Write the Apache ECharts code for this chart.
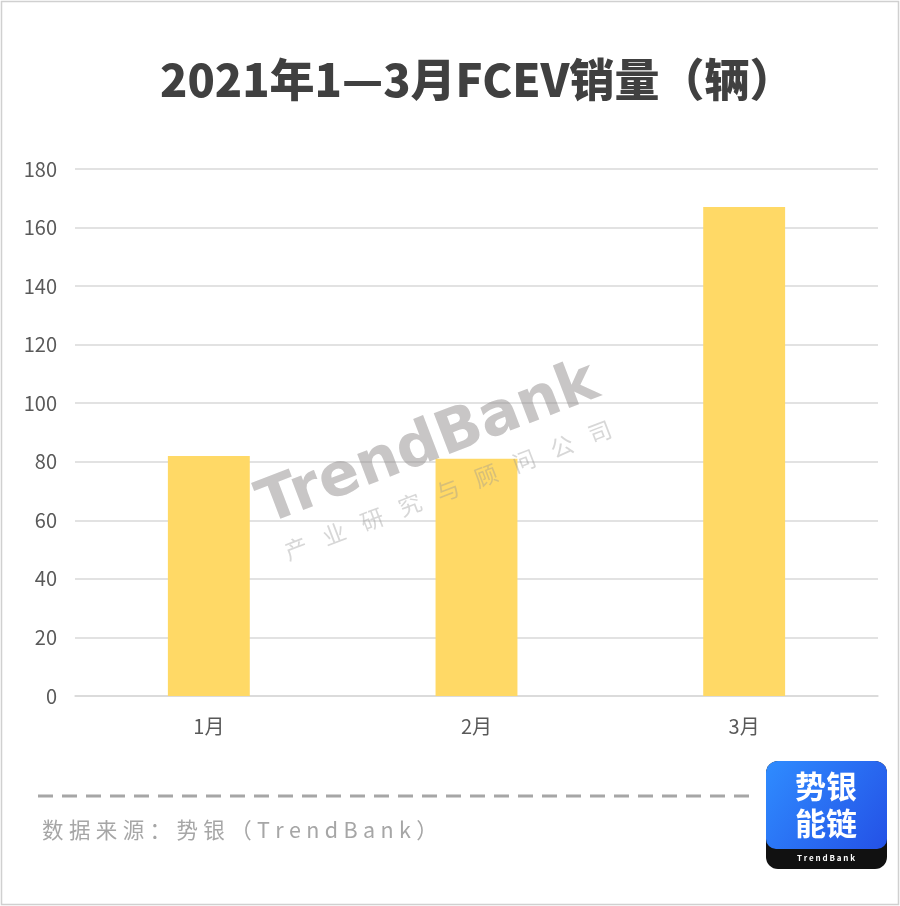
<!DOCTYPE html>
<html>
<head>
<meta charset="utf-8">
<script src="https://cdn.jsdelivr.net/npm/echarts@6/dist/echarts.min.js"></script>
<style>
html,body{margin:0;padding:0;background:#fff;}
#c{width:900px;height:906px;}
</style>
</head>
<body>
<div id="c"></div>
<script>
const titleText = '2021年1—3月FCEV销量（辆）';
const categories = ['1月', '2月', '3月'];
const sales = [82, 81, 167];
const yTicks = [0, 20, 40, 60, 80, 100, 120, 140, 160, 180];
const sourceText = '数据来源：势银（TrendBank）';
const watermarkMain = 'TrendBank';
const watermarkSub = '产业研究与顾问公司';

const chart = echarts.init(document.getElementById('c'));
const font = '"Noto Sans CJK SC", "Noto Sans", sans-serif';

const subChars = watermarkSub.split('').map((ch, i) => ({
  type: 'text', z: 10,
  style: { text: ch, x: 2 + (i - 4) * 40.7, y: 31, align: 'center', verticalAlign: 'middle', fontSize: 23, fontFamily: font, fill: 'rgba(150,150,150,0.38)' }
}));

chart.setOption({
  backgroundColor: '#fff',
  textStyle: { fontFamily: font },
  title: {
    text: titleText, left: 155, top: 52,
    textStyle: { fontSize: 45, fontWeight: 900, color: '#404040', fontFamily: font }
  },
  grid: { left: 75, right: 22, top: 169, bottom: 210, containLabel: false },
  xAxis: {
    type: 'category', data: categories,
    axisLine: { lineStyle: { color: '#d9d9d9', width: 1.5 } },
    axisTick: { show: false },
    axisLabel: { fontSize: 20, color: '#595959', margin: 20 }
  },
  yAxis: {
    type: 'value', min: yTicks[0], max: yTicks[yTicks.length - 1], interval: 20,
    axisLine: { show: false }, axisTick: { show: false },
    axisLabel: { fontSize: 20, color: '#595959', margin: 18 },
    splitLine: { lineStyle: { color: '#d9d9d9', width: 1.5 } }
  },
  series: [{
    type: 'bar', data: sales, barWidth: '30.6%',
    itemStyle: { color: '#FFD966' }, z: 2
  }],
  graphic: [
    { type: 'rect', shape: { x: 1.5, y: 1.5, width: 897, height: 903 }, style: { fill: 'none', stroke: '#d0d0d0', lineWidth: 1.5 }, z: 0 },
    { type: 'group', x: 435, y: 462, rotation: 21 * Math.PI / 180, z: 10, children: [
      { type: 'text', z: 10, style: { text: watermarkMain, x: 0, y: 12, align: 'center', verticalAlign: 'bottom', fontSize: 60, fontWeight: 'bold', fontFamily: '"DejaVu Sans", sans-serif', fill: 'rgba(140,135,135,0.48)' } }
    ].concat(subChars)},
    { type: 'line', shape: { x1: 38, y1: 796, x2: 752, y2: 796 }, style: { stroke: '#a6a6a6', lineWidth: 3, lineDash: [15, 9] } },
    { type: 'text', style: { text: sourceText.split('').join('\u2005'), x: 42, y: 830, verticalAlign: 'middle', fontSize: 21.5, fontFamily: font, fill: '#a6a6a6' } },
    { type: 'rect', shape: { x: 766, y: 761, width: 121, height: 108, r: 12 }, style: { fill: '#111' } },
    { type: 'rect', shape: { x: 766, y: 761, width: 121, height: 88, r: [12, 12, 10, 10] }, style: { fill: new echarts.graphic.LinearGradient(0, 0, 1, 1, [{ offset: 0, color: '#2f8cff' }, { offset: 1, color: '#2451e6' }]) } },
    { type: 'text', style: { text: '势银', x: 826, y: 786, align: 'center', verticalAlign: 'middle', fontSize: 31, fontWeight: 'bold', fontFamily: font, fill: '#fff' } },
    { type: 'text', style: { text: '能链', x: 826, y: 823, align: 'center', verticalAlign: 'middle', fontSize: 31, fontWeight: 'bold', fontFamily: font, fill: '#fff' } },
    { type: 'text', style: { text: 'T r e n d B a n k', x: 826, y: 858, align: 'center', verticalAlign: 'middle', fontSize: 8, fontWeight: 'bold', fontFamily: font, fill: '#fff' } }
  ]
});
</script>
</body>
</html>
